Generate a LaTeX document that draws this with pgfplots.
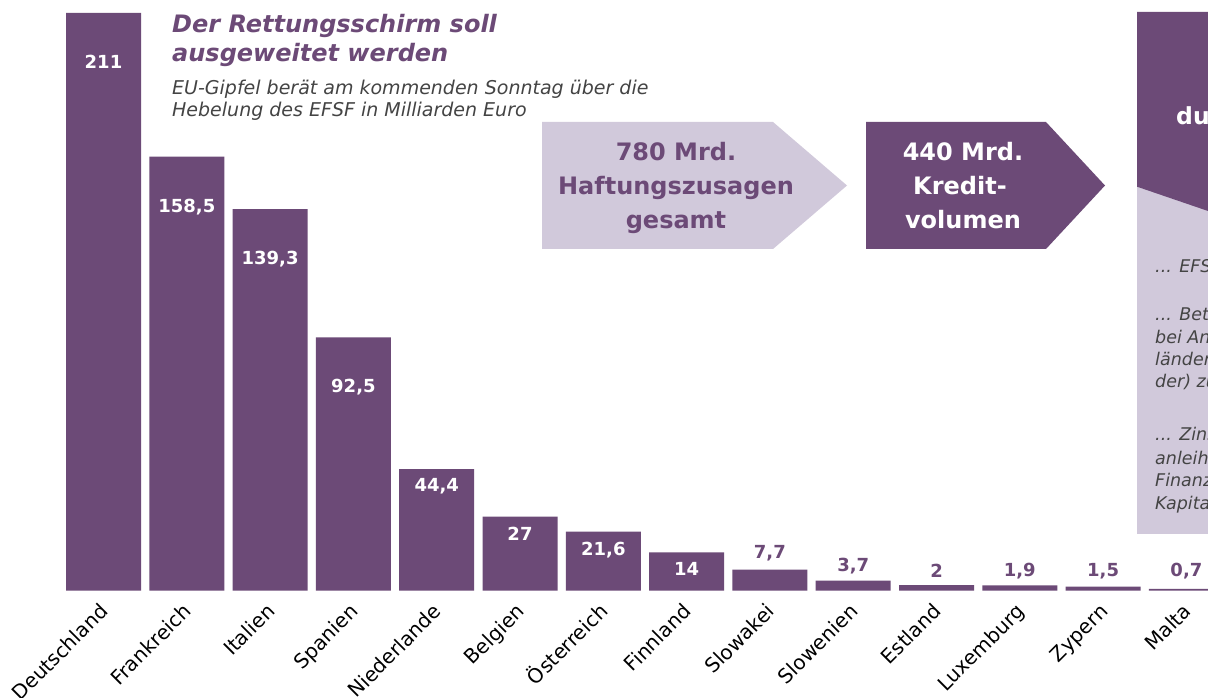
\documentclass[border=0pt]{standalone}
\usepackage{pgfplots}
\pgfplotsset{compat=1.18}
\usepackage{fontspec}
\setmainfont{DejaVu Sans}
\definecolor{lila}{HTML}{6C4A77}
\definecolor{hell}{HTML}{D1C9DB}
\definecolor{grau}{HTML}{444444}
\begin{document}
\begin{tikzpicture}
\path[use as bounding box, clip] (0pt,0pt) rectangle (1208pt,697pt);
\fill[white] (0pt,0pt) rectangle (1208pt,697pt);
\begin{axis}[at={(0pt,106.3pt)}, anchor=south west, scale only axis,
  width=1208pt, height=590.7pt,
  xmin=-1.2425, xmax=13.259, ymin=0, ymax=215.66,
  axis line style={draw=none}, tick style={draw=none}, major tick length=0pt,
  ytick=\empty, xtick={0,...,13},
  xticklabels={Deutschland,Frankreich,Italien,Spanien,Niederlande,Belgien,Österreich,Finnland,Slowakei,Slowenien,Estland,Luxemburg,Zypern,Malta},
  typeset ticklabels with strut,
  xticklabel style={xshift=6pt, yshift=-22pt, rotate=45, anchor=base east, inner sep=0pt, text=black, font=\fontsize{20}{22}\selectfont},
  clip=false]
\addplot[ybar, bar width=75pt, bar shift=0pt, fill=lila, draw=none] coordinates {
(0,211) (1,158.5) (2,139.3) (3,92.5) (4,44.4) (5,27) (6,21.6) (7,14) (8,7.7) (9,3.7) (10,2) (11,1.9) (12,1.5) (13,0.7)};
\addplot[only marks, mark=none, nodes near coords, point meta=explicit symbolic,
  every node near coord/.style={anchor=center, text=white, inner sep=0pt, font=\bfseries\fontsize{18}{20}\selectfont}]
  table[meta=l] {
x y l
0 193.1 211
1 140.1 158,5
2 121.1 139,3
3 74.3 92,5
4 38.2 44,4
5 20.7 27
6 14.7 21,6
7 8.1 14
};
\addplot[only marks, mark=none, nodes near coords, point meta=explicit symbolic,
  every node near coord/.style={anchor=center, text=lila, inner sep=0pt, font=\bfseries\fontsize{18}{20}\selectfont}]
  table[meta=l] {
x y l
8 13.8 7,7
9 9.0 3,7
10 7.2 2
11 7.2 1,9
12 7.2 1,5
13 7.2 0,7
};
\end{axis}
% title
\node[anchor=base west, inner sep=0pt, text=lila, font=\bfseries\itshape\fontsize{24}{28.5}\selectfont] at (172pt,664pt) {Der Rettungsschirm soll};
\node[anchor=base west, inner sep=0pt, text=lila, font=\bfseries\itshape\fontsize{24}{28.5}\selectfont] at (172pt,635.5pt) {ausgeweitet werden};
\node[anchor=base west, inner sep=0pt, text=grau, font=\itshape\fontsize{19}{22}\selectfont] at (172pt,602pt) {EU-Gipfel berät am kommenden Sonntag über die};
\node[anchor=base west, inner sep=0pt, text=grau, font=\itshape\fontsize{19}{22}\selectfont] at (172pt,580pt) {Hebelung des EFSF in Milliarden Euro};
% arrows
\fill[hell] (542pt,575pt) -- (773pt,575pt) -- (847pt,511.5pt) -- (773pt,448pt) -- (542pt,448pt) -- cycle;
\fill[lila] (866pt,575pt) -- (1046pt,575pt) -- (1105pt,511.5pt) -- (1046pt,448pt) -- (866pt,448pt) -- cycle;
\begin{scope}[every node/.style={anchor=base, inner sep=0pt, font=\bfseries\fontsize{24}{34}\selectfont}]
\node[text=lila] at (676pt,536pt) {780 Mrd.};
\node[text=lila] at (676pt,502pt) {Haftungszusagen};
\node[text=lila] at (676pt,468pt) {gesamt};
\node[text=white] at (963pt,536pt) {440 Mrd.};
\node[text=white] at (960pt,502pt) {Kredit-};
\node[text=white] at (963pt,468pt) {volumen};
\end{scope}
% right box
\fill[hell] (1137pt,685pt) rectangle (1320pt,163pt);
\fill[lila] (1137pt,685pt) -- (1320pt,685pt) -- (1320pt,447.7pt) -- (1137pt,510.3pt) -- cycle;
\node[anchor=base west, inner sep=0pt, text=white, font=\bfseries\fontsize{23.5}{34}\selectfont] at (1176pt,572pt) {durch};
\begin{scope}[every node/.style={anchor=base west, inner sep=0pt, text=grau, font=\itshape\fontsize{17.5}{22}\selectfont}]
\node at (1155pt,424pt) {... EFSF versichert};
\node at (1155pt,376pt) {... Beteiligung};
\node at (1155pt,353pt) {bei Anleihen der Krisen-};
\node at (1155pt,331pt) {länder (Teilverluste};
\node at (1155pt,309pt) {der) zu übernehmen};
\node at (1155pt,256pt) {... Zinsen für Staats-};
\node at (1155pt,233pt) {anleihen senken};
\node at (1155pt,211pt) {Finanzierung über};
\node at (1155pt,188pt) {Kapitalmarkt};
\end{scope}
\end{tikzpicture}
\end{document}
